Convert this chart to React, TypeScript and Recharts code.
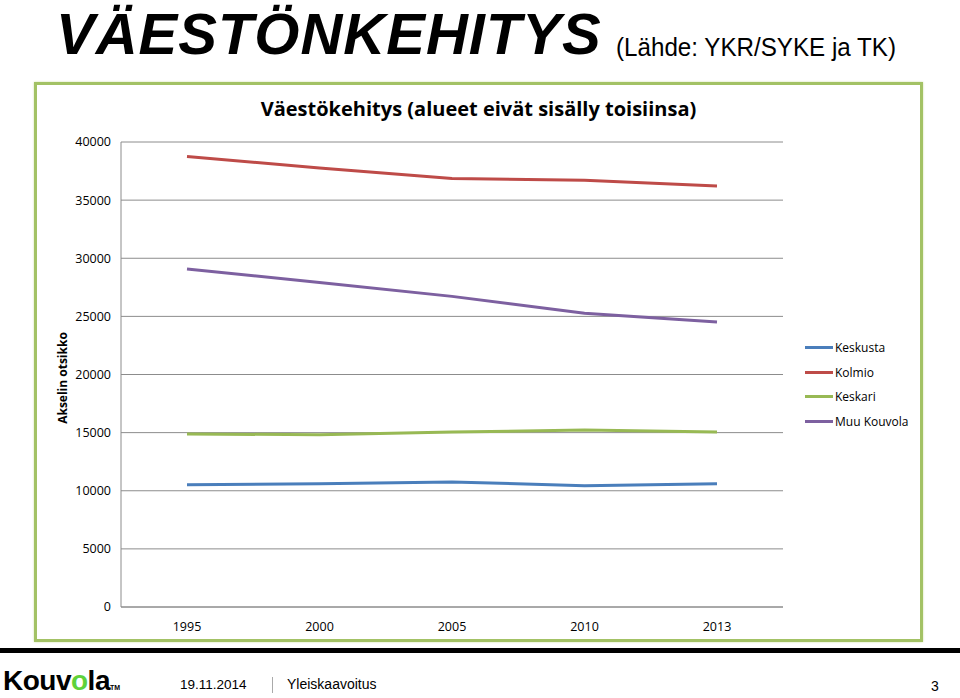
import React from "react";
import { LineChart, Line, XAxis, YAxis, CartesianGrid, Legend } from "recharts";

// Vuodet ja väkiluvut (luettu kuvasta)
const years = ["1995", "2000", "2005", "2010", "2013"];
const keskusta = [10520, 10610, 10750, 10440, 10610];
const kolmio = [38760, 37760, 36870, 36700, 36210];
const keskari = [14880, 14820, 15050, 15220, 15050];
const muuKouvola = [29070, 27920, 26720, 25260, 24510];
const yTicks = [0, 5000, 10000, 15000, 20000, 25000, 30000, 35000, 40000];

const series = [
  { key: "Keskusta", values: keskusta, color: "#4A7EBB" },
  { key: "Kolmio", values: kolmio, color: "#BE4B48" },
  { key: "Keskari", values: keskari, color: "#98B954" },
  { key: "Muu Kouvola", values: muuKouvola, color: "#7D60A0" },
];

const data = years.map((year, i) => {
  const row: Record<string, string | number> = { year };
  series.forEach((s) => (row[s.key] = s.values[i]));
  return row;
});

const chartFont = "'Open Sans', 'Noto Sans', sans-serif";

// legendan järjestys sarjojen mukaan, ei aakkosjärjestyksessä
const LegendList = () => (
  <div style={{ fontFamily: chartFont, fontSize: 12 }}>
    {series.map((s) => (
      <div key={s.key} style={{ display: "flex", alignItems: "center", height: 24.7 }}>
        <span style={{ display: "inline-block", width: 28, height: 3, background: s.color, marginRight: 2 }} />
        <span style={{ color: "#000" }}>{s.key}</span>
      </div>
    ))}
  </div>
);

const App: React.FC = () => {
  return (
    <div style={{ position: "absolute", left: 0, top: 0, width: 960, height: 698, background: "#fff", overflow: "hidden", fontFamily: "'Liberation Sans', Arial, sans-serif" }}>
      {/* Otsikko */}
      <div style={{ position: "absolute", left: 56, top: -1, fontSize: 58, fontWeight: 700, fontStyle: "italic", letterSpacing: 1, lineHeight: "70px", color: "#000", whiteSpace: "nowrap" }}>
        VÄESTÖNKEHITYS
      </div>
      <div style={{ position: "absolute", left: 616, top: 32, fontSize: 26, lineHeight: "30px", color: "#000", whiteSpace: "nowrap", transform: "scaleX(0.93)", transformOrigin: "left top" }}>
        (Lähde: YKR/SYKE ja TK)
      </div>

      {/* Kaavion kehys */}
      <div style={{ position: "absolute", left: 34, top: 82, width: 883, height: 554, border: "3px solid #A3C265", boxShadow: "0 0 2px #cfe0a8" }} />
      <div style={{ position: "absolute", left: 35, top: 95, width: 887, textAlign: "center", fontFamily: chartFont, fontWeight: 700, fontSize: 20, color: "#000", whiteSpace: "nowrap" }}>
        Väestökehitys (alueet eivät sisälly toisiinsa)
      </div>
      <div style={{ position: "absolute", left: 62, top: 378, transform: "translate(-50%, -50%) rotate(-90deg)", fontFamily: chartFont, fontWeight: 700, fontSize: 12, whiteSpace: "nowrap" }}>
        Akselin otsikko
      </div>

      <div style={{ position: "absolute", left: 35, top: 83 }}>
        <LineChart width={887} height={558} data={data} margin={{ top: 59, right: 139, bottom: 4, left: 26 }}>
          <CartesianGrid vertical={false} stroke="#8C8C8C" strokeWidth={1} />
          <XAxis
            dataKey="year"
            padding={{ left: 66, right: 66 }}
            tickLine={false}
            tickMargin={9}
            axisLine={{ stroke: "#8C8C8C" }}
            tick={{ fill: "#000", fontSize: 12.5, fontFamily: chartFont }}
            height={30}
          />
          <YAxis
            domain={[0, 40000]}
            ticks={yTicks}
            tickLine={false}
            tickMargin={4}
            axisLine={{ stroke: "#8C8C8C" }}
            tick={{ fill: "#000", fontSize: 12.5, fontFamily: chartFont }}
            width={60}
          />
          <Legend
            layout="vertical"
            align="center"
            verticalAlign="middle"
            content={<LegendList />}
            wrapperStyle={{ left: 770, top: 252, width: 120 }}
          />
          {series.map((s) => (
            <Line
              key={s.key}
              type="linear"
              dataKey={s.key}
              stroke={s.color}
              strokeWidth={3}
              dot={false}
              isAnimationActive={false}
            />
          ))}
        </LineChart>
      </div>

      {/* Alapalkki */}
      <div style={{ position: "absolute", left: 0, top: 648, width: 960, height: 5, background: "#000" }} />
      <div style={{ position: "absolute", left: 3, top: 665, fontSize: 28, fontWeight: 700, letterSpacing: -0.5, color: "#000", lineHeight: "32px", whiteSpace: "nowrap" }}>
        Kouv<span style={{ color: "#5FD23A" }}>o</span>la<span style={{ fontSize: 7, letterSpacing: 0 }}>TM</span>
      </div>
      <div style={{ position: "absolute", left: 180, top: 677, fontSize: 13.5, color: "#000" }}>19.11.2014</div>
      <div style={{ position: "absolute", left: 272, top: 677, width: 1, height: 16, background: "#aaa" }} />
      <div style={{ position: "absolute", left: 287, top: 676, fontSize: 14, color: "#000" }}>Yleiskaavoitus</div>
      <div style={{ position: "absolute", left: 931, top: 678, fontSize: 14, color: "#000" }}>3</div>
    </div>
  );
};

export default App;
